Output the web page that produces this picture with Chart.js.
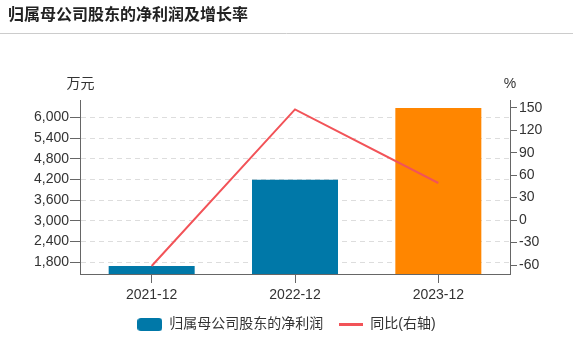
<!DOCTYPE html>
<html>
<head>
<meta charset="utf-8">
<script src="https://cdn.jsdelivr.net/npm/chart.js@4"></script>
<style>
  html, body { margin: 0; padding: 0; background: #fff; }
  #wrap { width: 573px; height: 355px; position: relative; }
</style>
</head>
<body>
<div id="wrap"><canvas id="c" width="573" height="355"></canvas></div>
<script>
const titleText = '归属母公司股东的净利润及增长率';
const categories = ['2021-12', '2022-12', '2023-12'];
const profitLabel = '归属母公司股东的净利润';
const growthLabel = '同比(右轴)';
const profitValues = [1693, 4193, 6269];
const growthValues = [-61.3, 147.7, 49.5];
const leftTicks = [1800, 2400, 3000, 3600, 4200, 4800, 5400, 6000];
const rightTicks = [-60, -30, 0, 30, 60, 90, 120, 150];
const leftUnit = '万元';
const rightUnit = '%';

const BLUE = '#0078a8';
const ORANGE = '#ff8600';
const RED = '#f25358';
const FONT = "'Liberation Sans', 'Noto Sans CJK SC', sans-serif";
const barColors = profitValues.map((v, i) => i === profitValues.length - 1 ? ORANGE : BLUE);

function makeBoxIcon(color) {
  const c = document.createElement('canvas');
  c.width = 25; c.height = 13;
  const g = c.getContext('2d');
  g.fillStyle = color;
  g.beginPath();
  if (g.roundRect) g.roundRect(0, 0, 25, 13, 3.5); else g.rect(0, 0, 25, 13);
  g.fill();
  return c;
}
function makeLineIcon(color) {
  const c = document.createElement('canvas');
  c.width = 24; c.height = 3;
  const g = c.getContext('2d');
  g.fillStyle = color;
  g.fillRect(0, 0, 24, 3);
  return c;
}
const boxIcon = makeBoxIcon(BLUE);
const lineIcon = makeLineIcon(RED);

const decorPlugin = {
  id: 'decor',
  afterDraw(chart) {
    const ctx = chart.ctx;
    const area = chart.chartArea;
    ctx.save();
    ctx.fillStyle = '#222';
    ctx.font = "bold 16px " + FONT;
    ctx.textBaseline = 'middle';
    ctx.textAlign = 'left';
    ctx.fillText(titleText, 8, 16);
    ctx.strokeStyle = '#cccccc';
    ctx.lineWidth = 1;
    ctx.beginPath();
    ctx.moveTo(0, 33.5);
    ctx.lineTo(573, 33.5);
    ctx.stroke();
    ctx.fillStyle = '#333';
    ctx.font = "14px " + FONT;
    ctx.textAlign = 'center';
    ctx.fillText(leftUnit, area.left + 0.5, 84);
    ctx.fillText(rightUnit, area.right, 84);
    ctx.restore();
  }
};

new Chart(document.getElementById('c'), {
  type: 'bar',
  data: {
    labels: categories,
    datasets: [
      {
        type: 'line',
        label: growthLabel,
        data: growthValues,
        yAxisID: 'y1',
        borderColor: RED,
        backgroundColor: RED,
        borderWidth: 2,
        pointRadius: 0,
        pointHoverRadius: 0,
        tension: 0,
        order: 0
      },
      {
        type: 'bar',
        label: profitLabel,
        data: profitValues,
        yAxisID: 'y',
        backgroundColor: barColors,
        borderWidth: 0,
        categoryPercentage: 1,
        barPercentage: 0.6,
        order: 1
      }
    ]
  },
  options: {
    responsive: false,
    animation: false,
    devicePixelRatio: 1,
    layout: { padding: { top: 100, left: 0, right: 0, bottom: 13.5 } },
    plugins: {
      tooltip: { enabled: false },
      title: { display: false },
      legend: {
        position: 'bottom',
        labels: {
          usePointStyle: true,
          pointStyleWidth: 25,
          boxHeight: 14,
          padding: 15,
          color: '#333',
          font: { family: FONT, size: 14 },
          generateLabels(chart) {
            return [
              { text: profitLabel, pointStyle: boxIcon, fillStyle: BLUE, strokeStyle: BLUE, lineWidth: 0, datasetIndex: 1, hidden: false, fontColor: '#333' },
              { text: growthLabel, pointStyle: lineIcon, fillStyle: RED, strokeStyle: RED, lineWidth: 0, datasetIndex: 0, hidden: false, fontColor: '#333' }
            ];
          }
        }
      }
    },
    scales: {
      x: {
        offset: true,
        grid: { display: true, drawOnChartArea: false, drawTicks: true, offset: false, tickLength: 9, tickColor: '#666', color: '#666' },
        border: { display: true, color: '#666', width: 1 },
        ticks: { color: '#333', font: { family: FONT, size: 14 }, padding: 4, maxRotation: 0 },
        afterFit(s) { s.height = 28.5; }
      },
      y: {
        position: 'left',
        min: 1461,
        max: 6501,
        afterBuildTicks(s) { s.ticks = leftTicks.map(v => ({ value: v })); },
        grid: { display: true, drawOnChartArea: true, drawTicks: true, color: '#dddddd', tickColor: '#666', tickLength: 10, tickBorderDash: [] },
        border: { display: true, color: '#666', width: 1, dash: [5, 4] },
        ticks: { color: '#333', font: { family: FONT, size: 14 }, padding: 1, callback: v => Number(v).toLocaleString('en-US') },
        afterFit(s) { s.width = 80; s.paddingTop = 0; s.paddingBottom = 0; }
      },
      y1: {
        position: 'right',
        min: -72,
        max: 160.3,
        afterBuildTicks(s) { s.ticks = rightTicks.map(v => ({ value: v })); },
        grid: { display: true, drawOnChartArea: false, drawTicks: true, color: '#666', tickColor: '#666', tickLength: 7 },
        border: { display: true, color: '#666', width: 1 },
        ticks: { color: '#333', font: { family: FONT, size: 14 }, padding: 2, callback: v => String(v) },
        afterFit(s) { s.width = 63; s.paddingTop = 0; s.paddingBottom = 0; }
      }
    }
  },
  plugins: [decorPlugin]
});
</script>
</body>
</html>
